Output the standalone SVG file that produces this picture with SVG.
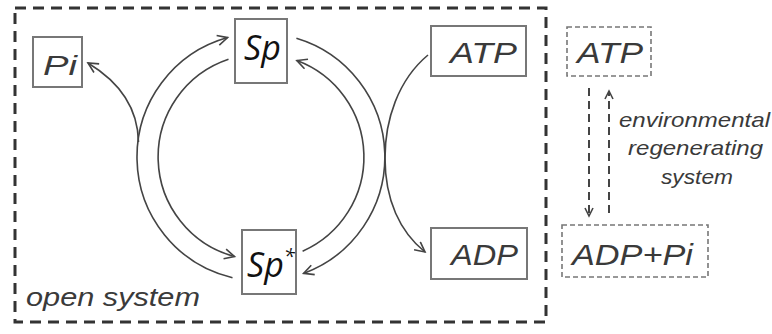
<svg xmlns="http://www.w3.org/2000/svg" width="772" height="334" viewBox="0 0 772 334">
<style>
.lbl{font-family:"Liberation Sans",Arial,sans-serif;font-style:italic;fill:#3a3a3a}
.sp{font-family:"Open Sans","Noto Sans",sans-serif;font-style:italic;fill:#111}
.box{fill:#fff;stroke:#777;stroke-width:2}
.dbox{fill:none;stroke:#777;stroke-width:1.6;stroke-dasharray:5 3}
.conn{fill:none;stroke:#444;stroke-width:1.6}
.dconn{fill:none;stroke:#444;stroke-width:2;stroke-dasharray:8 5}
</style>
<defs>
<marker id="ah" markerUnits="userSpaceOnUse" markerWidth="14" markerHeight="12" refX="11" refY="6" orient="auto">
<path d="M1,1 L11,6 L1,11" fill="none" stroke="#444" stroke-width="1.6"/>
</marker>
<marker id="ahd" markerUnits="userSpaceOnUse" markerWidth="12" markerHeight="12" refX="9" refY="5" orient="auto">
<path d="M1,1 L9,5 L1,9" fill="none" stroke="#444" stroke-width="1.6" stroke-dasharray="none"/>
</marker>
</defs>
<rect width="772" height="334" fill="#fff"/>
<g id="open-system">
<rect x="15" y="8" width="531" height="314" fill="none" stroke="#333" stroke-width="3" stroke-dasharray="11 7"/>
<text class="lbl" x="26" y="306" font-size="26" textLength="174" lengthAdjust="spacingAndGlyphs">open system</text>
</g>
<g id="connectors">
<path class="conn" d="M232.5,277.7 A124 124 0 0 1 227.6,37.6" marker-end="url(#ah)"/>
<path class="conn" d="M228.5,59.3 A103 103 0 0 0 234.5,256.5" marker-end="url(#ah)"/>
<path class="conn" d="M296.4,38.2 A124 124 0 0 1 303.6,273.4" marker-end="url(#ah)"/>
<path class="conn" d="M302.6,251.2 A103 103 0 0 0 296.9,60.5" marker-end="url(#ah)"/>
<path class="conn" d="M138.5,142 C138,115 126,86 88,63" marker-end="url(#ah)"/>
<path class="conn" d="M428,55 C398,80 385,120 385,158 C385,200 400,232 425,252" marker-end="url(#ah)"/>
<path class="dconn" d="M589,88 L589,216" marker-end="url(#ahd)"/>
<path class="dconn" d="M609,213 L609,91" marker-end="url(#ahd)"/>
</g>
<g id="node-pi">
<rect class="box" x="33" y="37" width="49" height="50" stroke="#666"/>
<text class="lbl" x="43" y="75" font-size="28" textLength="34" lengthAdjust="spacingAndGlyphs" fill="#555">Pi</text>
</g>
<g id="node-sp">
<rect class="box" x="235" y="19" width="52" height="64" stroke="#999"/>
<text class="sp" x="244" y="60" font-size="34">Sp</text>
</g>
<g id="node-spstar">
<rect class="box" x="242" y="230" width="54" height="64" stroke="#888"/>
<text class="sp" x="247" y="277" font-size="34">Sp<tspan font-size="20" dy="-14">*</tspan></text>
</g>
<g id="node-atp">
<rect class="box" x="431" y="26" width="95" height="50" stroke="#555"/>
<text class="lbl" x="450" y="63" font-size="29" textLength="67" lengthAdjust="spacingAndGlyphs">ATP</text>
</g>
<g id="node-adp">
<rect class="box" x="431" y="228" width="96" height="51" stroke="#666"/>
<text class="lbl" x="451" y="265" font-size="29" textLength="67" lengthAdjust="spacingAndGlyphs">ADP</text>
</g>
<g id="node-atp-env">
<rect class="dbox" x="567" y="27" width="84" height="49"/>
<text class="lbl" x="577" y="63" font-size="29" textLength="66" lengthAdjust="spacingAndGlyphs">ATP</text>
</g>
<g id="node-adppi-env">
<rect class="dbox" x="562" y="225" width="146" height="52"/>
<text class="lbl" x="572" y="265" font-size="29" textLength="121" lengthAdjust="spacingAndGlyphs">ADP+Pi</text>
</g>
<g id="env-label">
<text class="lbl" x="619" y="127" font-size="21" textLength="151" lengthAdjust="spacingAndGlyphs" fill="#555">environmental</text>
<text class="lbl" x="628" y="155" font-size="21" textLength="135" lengthAdjust="spacingAndGlyphs" fill="#555">regenerating</text>
<text class="lbl" x="661" y="184" font-size="21" textLength="72" lengthAdjust="spacingAndGlyphs" fill="#555">system</text>
</g>
</svg>
